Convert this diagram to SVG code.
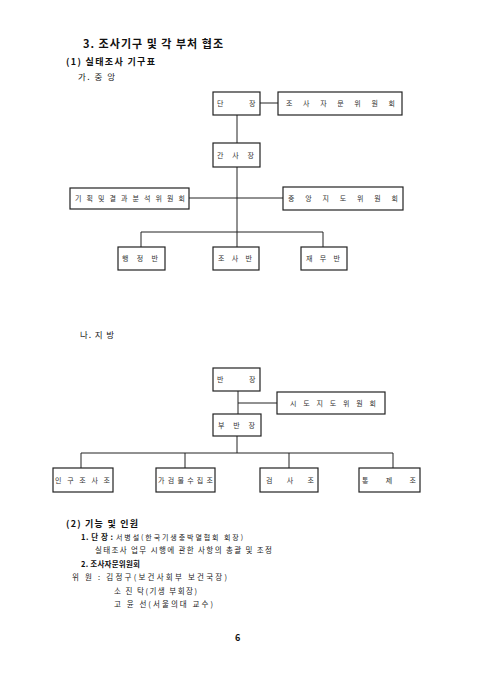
<svg xmlns="http://www.w3.org/2000/svg" width="480" height="676" viewBox="0 0 480 676">
<style>
.bx{fill:#fff;stroke:#222;stroke-width:1.2}
.ln{fill:none;stroke:#222;stroke-width:1}
.t{font-family:"Noto Sans CJK KR","Noto Sans",sans-serif;fill:#222}
.bt{font-family:"Noto Sans CJK KR",serif;font-size:7px;fill:#333}
.h{font-weight:bold;fill:#111}
</style>
<rect width="480" height="676" fill="#fff"/>
<text class="t h" x="83" y="48" font-size="11" textLength="140" lengthAdjust="spacing">3. 조사기구 및 각 부처 협조</text>
<text class="t h" x="66" y="65" font-size="9" textLength="89" lengthAdjust="spacing">(1) 실태조사 기구표</text>
<text class="t" x="78" y="80" font-size="8.5" textLength="37" lengthAdjust="spacing">가. 중 앙</text>
<g id="connectors">
<path class="ln" d="M260 103H278"/>
<path class="ln" d="M237 115V143"/>
<path class="ln" d="M237 167V232"/>
<path class="ln" d="M189 198H283"/>
<path class="ln" d="M141 247V232H323V247"/>
<path class="ln" d="M237 232V247"/>
<path class="ln" d="M238 391V414"/>
<path class="ln" d="M238 403H277"/>
<path class="ln" d="M237 436V453"/>
<path class="ln" d="M81 468V453H393V468"/>
<path class="ln" d="M185 453V468"/>
<path class="ln" d="M289 453V468"/>
</g>
<g id="n_danjang"><rect class="bx" x="213" y="92" width="47" height="23"/><text class="bt" x="217" y="106">단</text><text class="bt" x="249" y="106">장</text></g>
<g id="n_jamun"><rect class="bx" x="278" y="92" width="124" height="23"/><text class="bt" x="286" y="106" textLength="109" lengthAdjust="spacing">조사자문위원회</text></g>
<g id="n_gansa"><rect class="bx" x="213" y="143" width="47" height="24"/><text class="bt" x="217" y="158" textLength="37" lengthAdjust="spacing">간사장</text></g>
<g id="n_gihoek"><rect class="bx" x="70" y="188" width="119" height="21"/><text class="bt" x="75" y="201" textLength="110" lengthAdjust="spacing">기획및결과분석위원회</text></g>
<g id="n_jungang"><rect class="bx" x="283" y="187" width="120" height="23"/><text class="bt" x="288" y="201" textLength="110" lengthAdjust="spacing">중앙지도위원회</text></g>
<g id="n_haengjeong"><rect class="bx" x="118" y="247" width="47" height="23"/><text class="bt" x="122" y="261" textLength="36" lengthAdjust="spacing">행정반</text></g>
<g id="n_josa"><rect class="bx" x="213" y="247" width="46" height="23"/><text class="bt" x="218" y="261" textLength="34" lengthAdjust="spacing">조사반</text></g>
<g id="n_jaemu"><rect class="bx" x="301" y="247" width="46" height="23"/><text class="bt" x="306" y="261" textLength="34" lengthAdjust="spacing">재무반</text></g>
<text class="t" x="80" y="338" font-size="8.5" textLength="34" lengthAdjust="spacing">나. 지 방</text>
<g id="n_banjang"><rect class="bx" x="213" y="368" width="47" height="23"/><text class="bt" x="217" y="382">반</text><text class="bt" x="249" y="382">장</text></g>
<g id="n_sido"><rect class="bx" x="277" y="392" width="108" height="22"/><text class="bt" x="290" y="406" textLength="86" lengthAdjust="spacing">시도지도위원회</text></g>
<g id="n_bubanjang"><rect class="bx" x="213" y="414" width="48" height="22"/><text class="bt" x="218" y="428" textLength="37" lengthAdjust="spacing">부반장</text></g>
<g id="n_ingu"><rect class="bx" x="53" y="468" width="60" height="24"/><text class="bt" x="55" y="483" textLength="55" lengthAdjust="spacing">인구조사조</text></g>
<g id="n_gajeong"><rect class="bx" x="156" y="468" width="59" height="24"/><text class="bt" x="158" y="483" textLength="55" lengthAdjust="spacing">가검물수집조</text></g>
<g id="n_geomsa"><rect class="bx" x="260" y="468" width="58" height="24"/><text class="bt" x="266" y="483" textLength="48" lengthAdjust="spacing">검사조</text></g>
<g id="n_tongje"><rect class="bx" x="359" y="468" width="61" height="24"/><text class="bt" x="362" y="483" textLength="54" lengthAdjust="spacing">통제조</text></g>
<text class="t h" x="66" y="527" font-size="9" textLength="72" lengthAdjust="spacing">(2) 기능 및 인원</text>
<text class="t h" x="81" y="540" font-size="7.5" textLength="32" lengthAdjust="spacing">1. 단 장 :</text>
<text class="t" x="116" y="540" font-size="7" textLength="127" lengthAdjust="spacing">서병설(한국기생충박멸협회 회장)</text>
<text class="t" x="95" y="553" font-size="7.5" textLength="177" lengthAdjust="spacing">실태조사 업무 시행에 관한 사항의 총괄 및 조정</text>
<text class="t h" x="81" y="567" font-size="7.5" textLength="59" lengthAdjust="spacing">2. 조사자문위원회</text>
<text class="t" x="72" y="580" font-size="7.5" textLength="155" lengthAdjust="spacing">위 원 : 김정구(보건사회부 보건국장)</text>
<text class="t" x="114" y="594" font-size="7.5" textLength="83" lengthAdjust="spacing">소 진 탁(기생 부회장)</text>
<text class="t" x="114" y="607" font-size="7.5" textLength="99" lengthAdjust="spacing">고 윤 선(서울의대 교수)</text>
<text class="t h" x="235" y="641" font-size="9">6</text>
</svg>
